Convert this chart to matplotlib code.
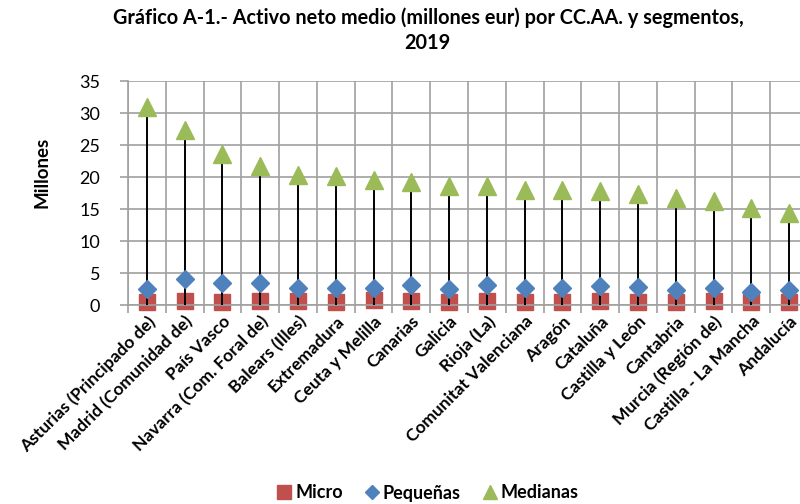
import numpy as np
import matplotlib.pyplot as plt
from matplotlib.lines import Line2D

plt.rcParams['font.family'] = ['Lato', 'DejaVu Sans']

regiones = ['Asturias (Principado de)', 'Madrid (Comunidad de)', 'País Vasco',
            'Navarra (Com. Foral de)', 'Balears (Illes)', 'Extremadura',
            'Ceuta y Melilla', 'Canarias', 'Galicia', 'Rioja (La)',
            'Comunitat Valenciana', 'Aragón', 'Cataluña', 'Castilla y León',
            'Cantabria', 'Murcia (Región de)', 'Castilla - La Mancha', 'Andalucía']
micro = [0.5, 0.6, 0.5, 0.6, 0.6, 0.5, 0.8, 0.7, 0.5, 0.7,
         0.5, 0.5, 0.6, 0.5, 0.4, 0.6, 0.4, 0.5]
pequenas = [2.5, 4.1, 3.4, 3.4, 2.7, 2.6, 2.6, 3.1, 2.5, 3.2,
            2.7, 2.6, 3.0, 2.8, 2.3, 2.7, 2.1, 2.3]
medianas = [30.9, 27.3, 23.6, 21.7, 20.3, 20.2, 19.5, 19.2, 18.6, 18.6,
            17.9, 17.9, 17.8, 17.3, 16.7, 16.3, 15.1, 14.3]

c_micro = '#C0504D'
c_peq = '#4F81BD'
c_med = '#9BBB59'
c_grid = '#A0A0A0'

fig = plt.figure(figsize=(8, 5.04), dpi=100)
# the plot area runs past the right edge of the figure on purpose
ax = fig.add_axes([128 / 800, 199 / 504, 680 / 800, 224 / 504])

x = np.arange(len(regiones))
# squares under the high-low line, diamonds and triangles over it
ax.plot(x, micro, 's', color=c_micro, ms=11, zorder=2, clip_on=False)
ax.vlines(x, 0, medianas, color='black', lw=1.4, zorder=3)
ax.plot(x, pequenas, 'D', color=c_peq, ms=9, zorder=4, clip_on=False)
ax.plot(x, medianas, '^', color=c_med, ms=13, zorder=4, clip_on=False)

ax.set_xlim(-0.5, len(regiones) - 0.5)
ax.set_ylim(0, 35)
ax.set_yticks(range(0, 36, 5))
ax.set_xticks(np.arange(-0.5, len(regiones), 1.0), minor=False)
ax.set_xticklabels([])
ax.set_xticks(x, minor=True)
ax.set_xticklabels(regiones, minor=True, rotation=45, ha='right',
                   rotation_mode='anchor', fontsize=12.5, fontweight='bold')
ax.tick_params(axis='x', which='minor', length=0, pad=6)
ax.tick_params(axis='x', which='major', length=6, width=1.2, color=c_grid)
ax.tick_params(axis='y', length=6, width=1.2, color=c_grid, labelsize=13, pad=14)

ax.grid(True, which='major', color=c_grid, lw=1.2, zorder=0)
ax.set_axisbelow(True)
for s in ax.spines.values():
    s.set_visible(False)
ax.spines['left'].set_visible(True)
ax.spines['left'].set_color(c_grid)
ax.spines['left'].set_linewidth(1.2)
ax.spines['bottom'].set_visible(True)
ax.spines['bottom'].set_color(c_grid)
ax.spines['bottom'].set_linewidth(1.2)

fig.text(42 / 800, 1 - 172 / 504, 'Millones', rotation=90, ha='center', va='center',
         fontsize=13.5, fontweight='bold')
fig.text(428 / 800, 1 - 18 / 504,
         'Gráfico A-1.- Activo neto medio (millones eur) por CC.AA. y segmentos,',
         ha='center', va='center', fontsize=14.3, fontweight='bold')
fig.text(427 / 800, 1 - 43 / 504, '2019', ha='center', va='center',
         fontsize=14.3, fontweight='bold')

handles = [Line2D([], [], ls='none', marker='s', color=c_micro, ms=10),
           Line2D([], [], ls='none', marker='D', color=c_peq, ms=7),
           Line2D([], [], ls='none', marker='^', color=c_med, ms=10)]
fig.legend(handles, ['Micro', 'Pequeñas', 'Medianas'], loc='center',
           bbox_to_anchor=(426 / 800, 1 - 493 / 504), ncol=3, frameon=False,
           prop={'size': 13, 'weight': 'bold'}, handletextpad=0.0,
           columnspacing=1.0, handlelength=1.2, borderpad=0.2)

fig.savefig('out.png', dpi=100)
